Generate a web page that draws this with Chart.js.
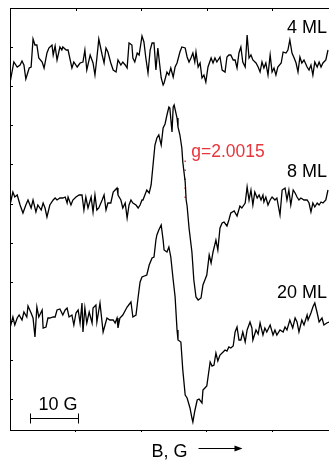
<!DOCTYPE html>
<html>
<head>
<meta charset="utf-8">
<script src="https://cdn.jsdelivr.net/npm/chart.js@4.4.1/dist/chart.umd.min.js"></script>
<style>
  html, body { margin: 0; padding: 0; background: #fff; }
  canvas { display: block; }
</style>
</head>
<body>
<canvas id="epr" width="329" height="463"></canvas>
<script>
// EPR derivative spectra for three film thicknesses (field in G, intensity in arb. units)
const field4 = [0,0.8,1.5,2.1,2.5,2.9,3.3,4.0,4.4,4.8,5.2,5.6,6.0,6.7,7.1,7.7,8.1,8.75,9.0,9.4,9.8,10.4,10.8,11.0,11.7,12.1,12.9,13.3,14.0,14.6,15.2,15.6,16.0,16.7,17.3,17.7,18.1,18.5,19.2,19.6,20.0,20.4,21.0,21.5,22.1,22.5,23.1,23.5,24.0,24.4,24.8,25.4,25.6,26.0,26.5,26.9,27.5,27.9,28.3,28.75,29.2,29.6,30.0,30.4,30.8,31.5,31.9,32.1,32.7,33.1,33.5,34.0,34.4,34.8,35.4,35.8,36.5,36.9,37.3,37.7,38.1,38.5,38.75,39.2,39.6,40.0,40.4,40.8,41.25,41.9,42.3,42.7,43.1,43.75,44.2,44.8,45.2,45.6,46.0,46.5,46.9,47.3,47.7,48.1,48.5,49.0,49.4,49.8,50.2,50.6,51.25,51.7,52.1,52.5,52.9,53.3,53.75,54.2,54.6,55.0,55.4,55.8,56.5,56.9,57.5,57.9,58.3,58.75,59.2,59.6,60.0,60.4,60.8,61.25,61.9,62.3,62.7,63.1,63.5,64.0,64.4,64.8,65.2,65.8,66.25];
const signal4 = [-23,-2,-7,-5,-1,-5,-19,-8,-7,21,15,15,2,-2,-8,7,12,15,5,14,0,13,10,13,10,10,-8,-2,-7,-3,-2,10,-10,5,-3,-15,2,21,5,-3,12,8,-3,-10,-12,0,-5,-2,-5,-8,17,15,2,-2,7,5,24,18,2,-13,10,17,17,-10,12,-18,-25,-23,-12,-15,-8,-17,-7,-3,8,13,12,3,-2,2,7,-2,8,-7,-3,-18,-15,-22,-7,2,-3,2,-2,3,-10,-12,3,5,5,0,0,-8,7,13,-2,-7,25,2,5,0,-3,-7,-12,-2,-8,-3,-15,5,-12,-8,-15,-7,-3,8,7,10,20,7,2,-3,-12,3,-3,0,-7,-10,-5,-15,-2,-7,-2,-7,-3,0,10];

const field8 = [0,0.6,1.0,1.5,2.1,2.7,3.3,3.75,4.4,4.8,5.4,5.8,6.5,6.9,7.3,7.7,8.3,9.0,9.4,9.8,10.4,11.0,11.5,11.9,12.1,12.7,13.1,13.75,14.4,15.0,15.4,15.8,16.25,16.9,17.3,17.7,18.1,18.5,19.2,19.6,20.0,20.4,21.0,21.5,21.9,22.3,22.5,23.1,23.5,24.0,24.4,24.8,25.2,25.6,26.25,26.7,27.1,27.5,27.7,28.1,28.5,29.0,29.4,29.8,30.2,30.6,31.0,31.5,31.9,32.3,32.7,33.1,33.3,33.75,34.0,34.2,34.8,35.0,35.4,35.8,36.0,36.5,36.7,36.9,37.3,37.9,38.3,38.75,39.2,39.8,40.2,40.6,41.0,41.5,41.9,42.3,42.9,43.3,43.75,44.2,44.6,45.2,45.6,46.0,46.7,47.3,47.9,48.3,49.0,49.4,49.8,50.2,50.6,51.0,51.5,51.9,52.3,52.7,52.9,53.3,53.75,54.2,54.6,55.2,55.6,56.25,56.7,57.3,57.7,58.1,58.5,59.0,59.4,59.8,60.2,60.6,61.25,61.9,62.3,62.7,63.1,63.5,64.0,64.4,64.8,65.2,65.8,66.25];
const signal8 = [0,13,8,10,0,-8,0,5,-3,5,-7,0,-5,2,-3,-12,0,5,7,5,7,7,8,2,8,0,5,8,10,10,-5,8,-3,8,-7,10,-5,-3,5,10,-5,2,2,13,15,17,10,5,-3,2,-13,0,5,2,0,-3,0,5,5,10,15,12,20,40,60,67,70,60,77,81,90,98,97,73,98,100,87,78,70,57,43,23,5,-1,-23,-47,-75,-92,-95,-93,-80,-75,-70,-50,-58,-47,-35,-45,-23,-18,-17,-21,-15,-8,-6,-11,-1,-3,2,18,5,15,0,13,7,10,5,10,3,8,0,5,8,5,7,-10,15,17,5,15,0,15,12,8,5,7,5,5,2,-7,2,-2,2,0,3,2,5,15];

const field20 = [0,0.6,1.0,1.5,1.9,2.5,2.9,3.5,3.75,4.4,4.8,5.2,5.6,6.0,6.7,6.9,7.5,7.9,8.3,9.0,9.4,9.8,10.4,11.0,11.5,11.9,12.3,12.9,13.3,13.75,14.2,14.6,15.0,15.2,15.6,16.0,16.5,17.1,17.3,17.9,18.1,18.75,19.4,19.8,20.2,20.8,21.5,21.9,22.3,22.5,22.9,23.5,24.4,25.2,25.6,26.25,26.7,27.1,27.5,28.5,29.0,29.6,30.0,30.4,30.6,31.0,31.5,31.9,32.1,32.7,33.1,33.5,34.0,34.4,34.8,35.0,35.6,36.0,36.5,36.9,37.5,37.9,38.1,38.5,39.0,39.4,40.0,40.2,40.6,41.0,41.7,42.1,42.5,42.9,43.3,43.75,44.4,44.8,45.2,45.6,46.0,46.5,46.9,47.3,47.7,48.1,48.5,49.0,49.4,50.0,50.4,50.6,51.25,51.7,52.1,52.7,53.1,53.5,54.2,54.8,55.2,55.6,56.25,56.9,57.3,57.7,58.3,58.9,59.4,59.8,60.2,60.8,61.25,61.9,62.1,62.7,63.1,63.5,64.0,64.4,65.0,65.4,66.0,66.46];
const signal20 = [-6,5,-3,4,7,2,10,5,16,9,4,-15,15,5,12,-6,-5,4,4,5,5,12,13,7,12,14,5,7,-3,9,12,-1,19,-10,14,-1,10,-1,14,17,0,19,-10,-3,4,2,2,-1,4,-6,4,7,15,20,5,7,25,40,45,47,57,64,65,82,87,92,97,82,72,70,75,65,42,25,-8,-18,-20,-48,-73,-76,-86,-96,-100,-89,-78,-77,-81,-68,-66,-64,-40,-44,-43,-31,-39,-33,-30,-28,-29,-25,-26,-24,-10,-5,-18,-18,-10,-20,-8,0,-6,-18,-8,-12,-1,-13,-6,-10,-3,-13,-8,-13,-8,-10,-5,-8,2,-6,4,0,-10,2,-3,7,2,9,15,19,9,0,4,-3,-1,0];

// Vertical stacking of the traces
const traceNames = ['4 ML', '8 ML', '20 ML'];
const traceOffsets = [370, 225, 108];

// Axis ranges and tick values
const fieldRange = [0, 66.46];
const intensityRange = [0, 422];
const fieldTicks = [13.65, 27.3, 40.95, 54.6];
const intensityTicks = [31, 70.1, 109.2, 148.3, 187.4, 226.5, 265.6, 304.7, 343.8, 382.9];

// Resonance marker and field scale bar
const gLabel = 'g=2.0015';
const gField = 36.5;
const gMarkerSpan = [232, 277];
const scaleBarField = [4.17, 14.17];
const scaleBarLabel = '10 G';
const axisTitle = 'B, G';

const FONT = '"Liberation Sans", Arial, Helvetica, sans-serif';

function toPoints(field, signal, offset) {
  const n = Math.min(field.length, signal.length);
  const pts = [];
  for (let i = 0; i < n; i++) pts.push({ x: field[i], y: offset + signal[i] });
  return pts;
}

const traceStyle = {
  borderColor: '#000',
  borderWidth: 1.3,
  pointRadius: 0,
  tension: 0,
  fill: false
};

const decorations = {
  id: 'decorations',
  afterDraw(chart) {
    const { ctx, chartArea: a, scales: { x, y } } = chart;
    ctx.save();
    ctx.strokeStyle = '#000';
    ctx.lineWidth = 1;

    // top frame line
    ctx.beginPath();
    ctx.moveTo(a.left, a.top + 0.5);
    ctx.lineTo(a.right, a.top + 0.5);
    ctx.stroke();

    // inward ticks on the left and top edges
    ctx.beginPath();
    intensityTicks.forEach(v => {
      const py = Math.round(y.getPixelForValue(v)) + 0.5;
      ctx.moveTo(a.left, py);
      ctx.lineTo(a.left + 3, py);
    });
    fieldTicks.forEach(f => {
      const px = Math.round(x.getPixelForValue(f)) + 0.5;
      ctx.moveTo(px, a.top);
      ctx.lineTo(px, a.top + 3);
    });
    ctx.stroke();

    // trace labels
    ctx.fillStyle = '#000';
    ctx.font = '18px ' + FONT;
    ctx.textAlign = 'right';
    ctx.textBaseline = 'alphabetic';
    const labelLevels = [397, 253, 132];
    traceNames.forEach((name, i) => {
      ctx.fillText(name, a.right - 2, y.getPixelForValue(labelLevels[i]));
    });

    // g-factor label
    ctx.fillStyle = '#e8353b';
    ctx.font = '17.5px ' + FONT;
    ctx.textAlign = 'left';
    ctx.fillText(gLabel, x.getPixelForValue(gField) + 6, y.getPixelForValue(273));

    // field scale bar
    const bx0 = Math.round(x.getPixelForValue(scaleBarField[0])) + 0.5;
    const bx1 = Math.round(x.getPixelForValue(scaleBarField[1])) + 0.5;
    const by = Math.round(y.getPixelForValue(12)) + 0.5;
    ctx.strokeStyle = '#000';
    ctx.beginPath();
    ctx.moveTo(bx0, by); ctx.lineTo(bx1, by);
    ctx.moveTo(bx0, by - 5); ctx.lineTo(bx0, by + 5);
    ctx.moveTo(bx1, by - 5); ctx.lineTo(bx1, by + 5);
    ctx.stroke();
    ctx.fillStyle = '#000';
    ctx.font = '18px ' + FONT;
    ctx.textAlign = 'left';
    ctx.fillText(scaleBarLabel, bx0 + 8, y.getPixelForValue(20));

    // arrow after the field axis title
    ctx.font = '18px ' + FONT;
    const tw = ctx.measureText(axisTitle).width;
    const cx = (x.left + x.right) / 2;
    const ax0 = cx + tw / 2 + 11;
    const ax1 = ax0 + 44;
    const ay = 448.5;
    ctx.beginPath();
    ctx.moveTo(ax0, ay); ctx.lineTo(ax1 - 6, ay);
    ctx.stroke();
    ctx.beginPath();
    ctx.moveTo(ax1, ay);
    ctx.lineTo(ax1 - 8, ay - 3);
    ctx.lineTo(ax1 - 8, ay + 3);
    ctx.closePath();
    ctx.fill();
    ctx.restore();
  }
};

new Chart(document.getElementById('epr'), {
  type: 'line',
  data: {
    datasets: [
      Object.assign({ label: traceNames[0], data: toPoints(field4, signal4, traceOffsets[0]) }, traceStyle),
      Object.assign({ label: traceNames[1], data: toPoints(field8, signal8, traceOffsets[1]) }, traceStyle),
      Object.assign({ label: traceNames[2], data: toPoints(field20, signal20, traceOffsets[2]) }, traceStyle),
      {
        label: gLabel,
        data: [{ x: gField, y: gMarkerSpan[0] }, { x: gField, y: gMarkerSpan[1] }],
        borderColor: '#e8353b',
        borderWidth: 1.5,
        borderDash: [1.5, 7.5],
        pointRadius: 0,
        fill: false
      }
    ]
  },
  options: {
    responsive: false,
    animation: false,
    devicePixelRatio: 1,
    layout: { padding: { left: 10, top: 8, right: 0, bottom: 0 } },
    plugins: { legend: { display: false }, tooltip: { enabled: false } },
    scales: {
      x: {
        type: 'linear',
        min: fieldRange[0],
        max: fieldRange[1],
        afterBuildTicks: s => { s.ticks = fieldTicks.map(v => ({ value: v })); },
        ticks: { display: false },
        grid: { display: true, drawOnChartArea: false, drawTicks: true, tickLength: 2, color: '#000' },
        border: { display: true, color: '#000', width: 1 },
        title: {
          display: true,
          text: axisTitle,
          color: '#000',
          font: { family: FONT, size: 18 },
          padding: { top: 9.4, bottom: 0 }
        }
      },
      y: {
        type: 'linear',
        min: intensityRange[0],
        max: intensityRange[1],
        afterBuildTicks: s => { s.ticks = intensityTicks.map(v => ({ value: v })); },
        ticks: { display: false },
        grid: { display: false, drawTicks: false },
        border: { display: true, color: '#000', width: 1 }
      }
    }
  },
  plugins: [decorations]
});
</script>
</body>
</html>
